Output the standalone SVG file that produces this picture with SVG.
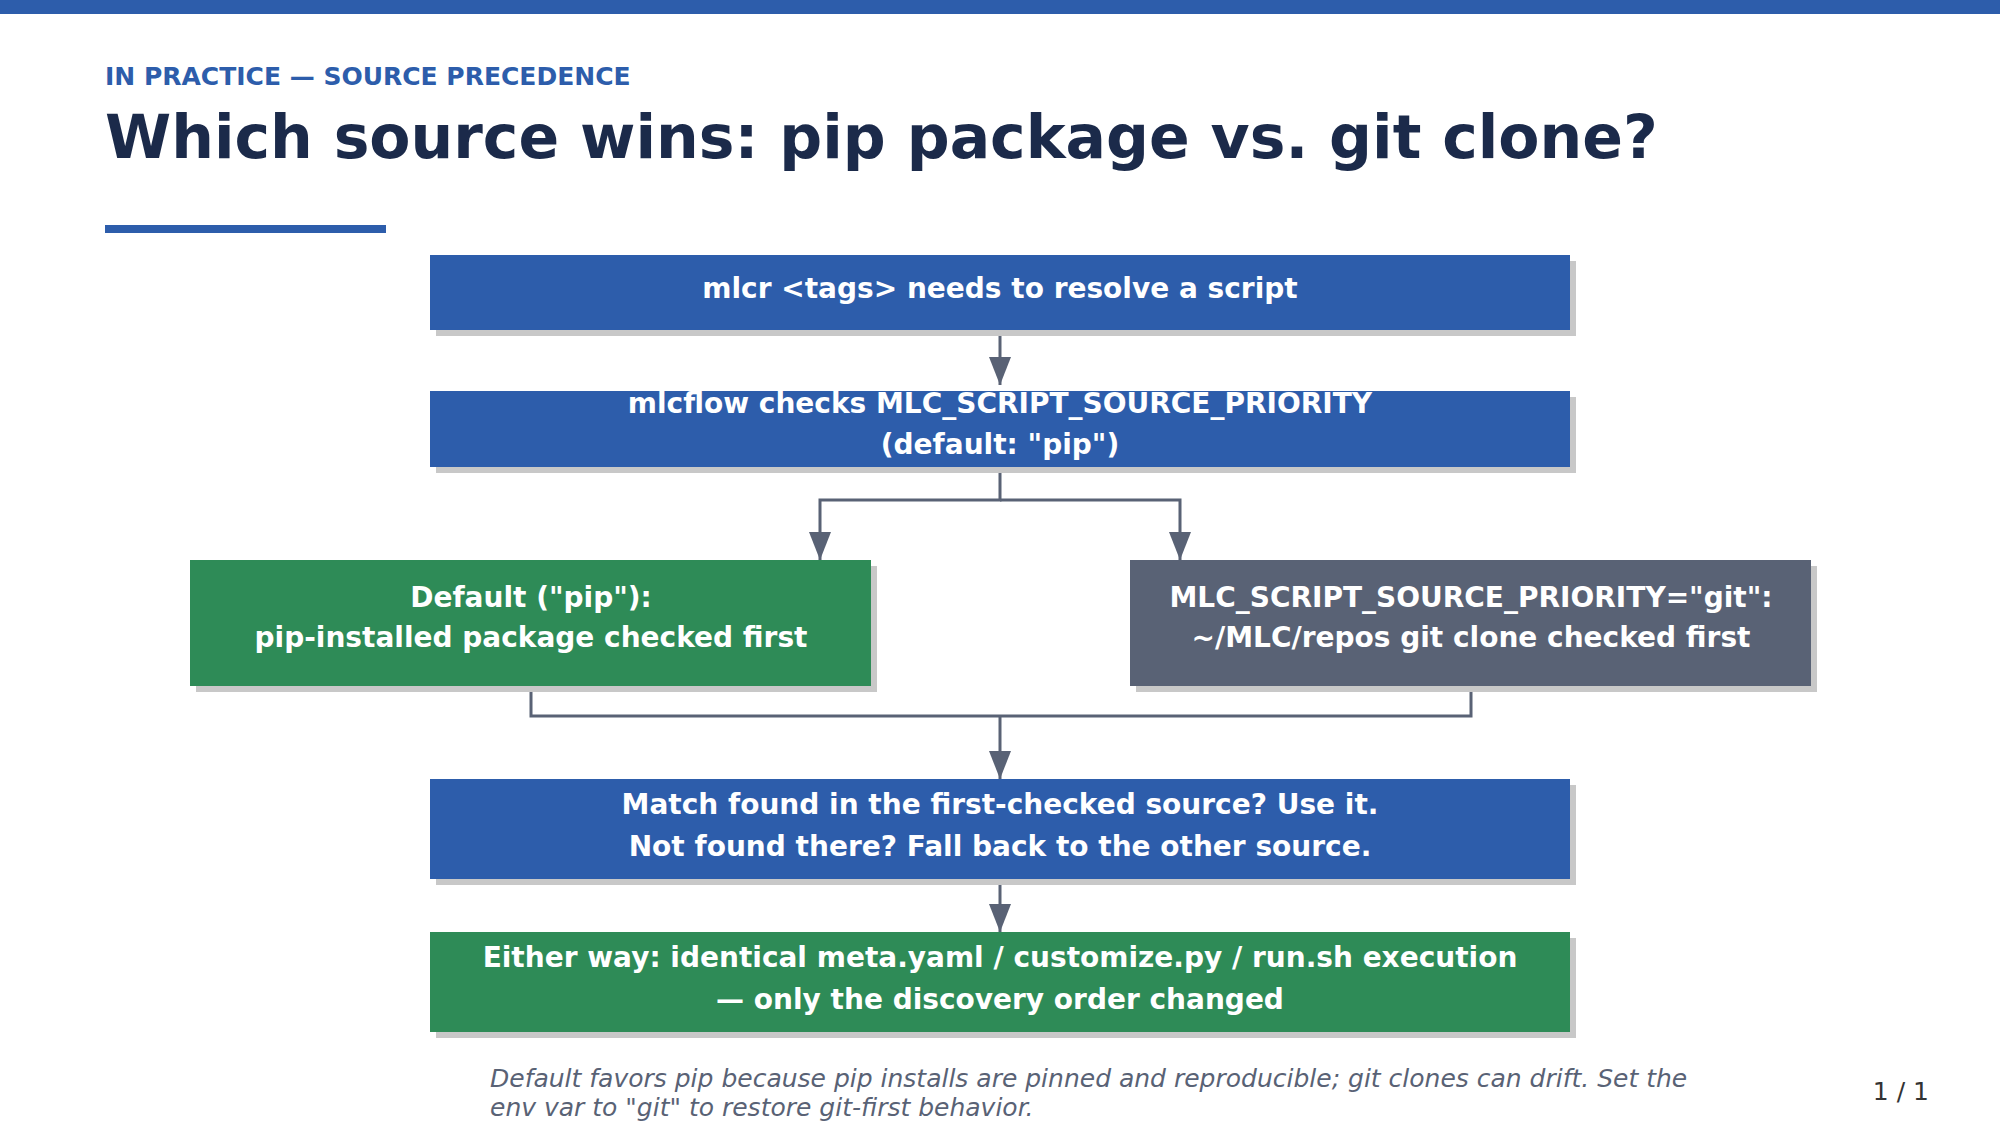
<svg xmlns="http://www.w3.org/2000/svg" width="2000" height="1125" viewBox="0 0 2000 1125">
<style>
.t{font-family:"DejaVu Sans","Liberation Sans",sans-serif;font-weight:bold;fill:#fff;font-size:28px;text-anchor:middle}
.sh{fill:#c8c8c8}
.b{fill:#2d5dab}.g{fill:#2e8b57}.k{fill:#596275}
.c{fill:none;stroke:#596275;stroke-width:3}
</style>
<defs><marker id="a" markerWidth="10" markerHeight="8" refX="10" refY="4" orient="auto" markerUnits="userSpaceOnUse" viewBox="0 0 10 8"><path d="M0,0L10,4L0,8z" fill="#596275"/></marker>
<marker id="ah" viewBox="0 0 28 22" refX="28" refY="11" markerWidth="28" markerHeight="22" orient="auto" markerUnits="userSpaceOnUse"><path d="M0,0L28,11L0,22z" fill="#596275"/></marker></defs>
<rect width="2000" height="1125" fill="#fff"/>
<rect width="2000" height="14" fill="#2d5dab"/>
<text x="105" y="85" font-family="DejaVu Sans,sans-serif" font-weight="bold" font-size="25" fill="#2d5dab">IN PRACTICE — SOURCE PRECEDENCE</text>
<text x="105" y="158" font-family="DejaVu Sans,sans-serif" font-weight="bold" font-size="60" fill="#1b2a4a">Which source wins: pip package vs. git clone?</text>
<rect x="105" y="225" width="281" height="8" fill="#2d5dab"/>
<g id="connectors">
<path class="c" d="M1000,331V385" marker-end="url(#ah)"/>
<path class="c" d="M1000,467V500H820V560" marker-end="url(#ah)"/>
<path class="c" d="M1000,500H1180V560" marker-end="url(#ah)"/>
<path class="c" d="M531,686V716H1471V686"/>
<path class="c" d="M1000,716V779" marker-end="url(#ah)"/>
<path class="c" d="M1000,879V932" marker-end="url(#ah)"/>
</g>
<g id="n1"><rect class="sh" x="436" y="261" width="1140" height="75"/><rect class="b" x="430" y="255" width="1140" height="75"/><text class="t" x="1000" y="298">mlcr &lt;tags&gt; needs to resolve a script</text></g>
<g id="n2"><rect class="sh" x="436" y="397" width="1140" height="76"/><rect class="b" x="430" y="391" width="1140" height="76"/><text class="t" x="1000" y="413">mlcflow checks MLC_SCRIPT_SOURCE_PRIORITY</text><text class="t" x="1000" y="454">(default: "pip")</text></g>
<g id="n3"><rect class="sh" x="196" y="566" width="681" height="126"/><rect class="g" x="190" y="560" width="681" height="126"/><text class="t" x="531" y="607" font-size="26">Default ("pip"):</text><text class="t" x="531" y="647" font-size="26">pip-installed package checked first</text></g>
<g id="n4"><rect class="sh" x="1136" y="566" width="681" height="126"/><rect class="k" x="1130" y="560" width="681" height="126"/><text class="t" x="1471" y="607" font-size="26">MLC_SCRIPT_SOURCE_PRIORITY="git":</text><text class="t" x="1471" y="647" font-size="26">~/MLC/repos git clone checked first</text></g>
<g id="n5"><rect class="sh" x="436" y="785" width="1140" height="100"/><rect class="b" x="430" y="779" width="1140" height="100"/><text class="t" x="1000" y="814">Match found in the first-checked source? Use it.</text><text class="t" x="1000" y="856">Not found there? Fall back to the other source.</text></g>
<g id="n6"><rect class="sh" x="436" y="938" width="1140" height="100"/><rect class="g" x="430" y="932" width="1140" height="100"/><text class="t" x="1000" y="967" font-size="29">Either way: identical meta.yaml / customize.py / run.sh execution</text><text class="t" x="1000" y="1009" font-size="29">— only the discovery order changed</text></g>
<g font-family="DejaVu Sans,sans-serif" font-style="italic" font-size="25" fill="#596275">
<text x="490" y="1087">Default favors pip because pip installs are pinned and reproducible; git clones can drift. Set the</text>
<text x="490" y="1116">env var to "git" to restore git-first behavior.</text></g>
<text x="1929" y="1100" text-anchor="end" font-family="DejaVu Sans,sans-serif" font-size="25" fill="#333">1 / 1</text>
</svg>
